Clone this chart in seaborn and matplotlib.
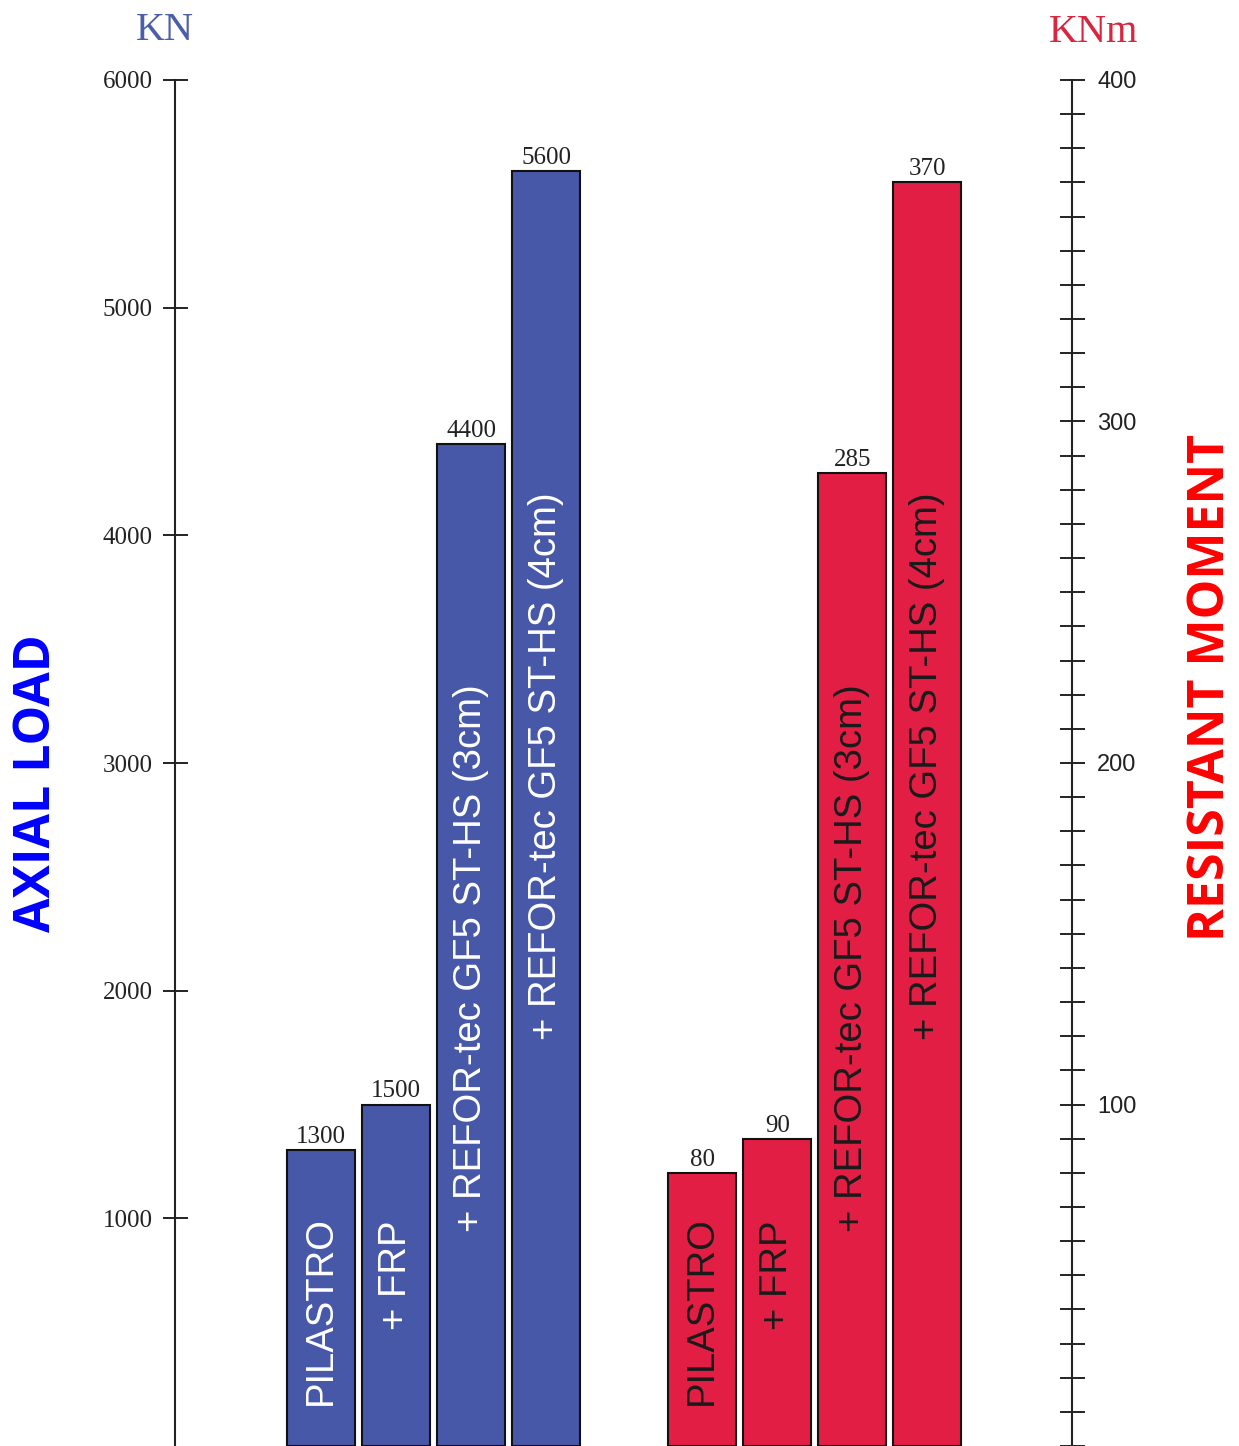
import numpy as np
import pandas as pd
import matplotlib
matplotlib.use("Agg")
import matplotlib.pyplot as plt
import matplotlib.transforms as mtransforms
from matplotlib.ticker import MultipleLocator
import seaborn as sns

# --- data ---
labels = ["PILASTRO", "+ FRP", "+ REFOR-tec GF5 ST-HS (3cm)", "+ REFOR-tec GF5 ST-HS (4cm)"]
axial_load_kn = [1300, 1500, 4400, 5600]
resistant_moment_knm = [80, 90, 285, 370]
axial_ticks = [1000, 2000, 3000, 4000, 5000, 6000]
moment_ticks = [100, 200, 300, 400]

BLUE = "#4858a8"
RED = "#e31e45"
W, H = 1239, 1446


def main():
    sns.set_theme(style="white")
    plt.rcParams["font.family"] = ["Liberation Sans", "DejaVu Sans"]

    pos = np.arange(len(labels), dtype=float)
    blue_df = pd.DataFrame({"pos": pos, "value": axial_load_kn, "label": labels})
    red_df = pd.DataFrame({"pos": pos + 5.08, "value": resistant_moment_knm, "label": labels})

    fig = plt.figure(figsize=(W / 100, H / 100), dpi=100)
    fig.patch.set_facecolor("white")
    ax = fig.add_axes([175 / W, 0, (1072 - 175) / W, 1366 / H])
    ax2 = ax.twinx()

    sns.barplot(data=blue_df, x="pos", y="value", native_scale=True, width=0.91,
                color=BLUE, saturation=1, edgecolor="#111111", linewidth=1.5, ax=ax)
    sns.barplot(data=red_df, x="pos", y="value", native_scale=True, width=0.91,
                color=RED, saturation=1, edgecolor="#111111", linewidth=1.5, ax=ax2)

    ax.set_xlim(-1.95, 10.01)
    ax.set_ylim(0, 6000)
    ax2.set_ylim(0, 400)
    ax.set_xlabel("")
    ax.set_ylabel("")
    ax2.set_ylabel("")
    ax.set_xticks([])
    ax.patch.set_alpha(0)

    for a in (ax, ax2):
        for s in ("top", "bottom"):
            a.spines[s].set_visible(False)
    ax.spines["right"].set_visible(False)
    ax2.spines["left"].set_visible(False)
    ax.spines["left"].set_linewidth(1.5)
    ax.spines["left"].set_color("#222222")
    ax2.spines["right"].set_linewidth(1.5)
    ax2.spines["right"].set_color("#222222")

    # left axis: KN
    ax.set_yticks(axial_ticks)
    ax.set_yticklabels([str(t) for t in axial_ticks], family="Liberation Serif", fontsize=18)
    ax.tick_params(axis="y", direction="inout", length=18, width=1.4, color="#222222",
                   pad=7, labelcolor="#222222", left=True)

    # right axis: KNm with minor ticks every 10
    ax2.set_yticks(moment_ticks)
    ax2.set_yticklabels([str(t) for t in moment_ticks], fontsize=17)
    ax2.yaxis.set_minor_locator(MultipleLocator(10))
    ax2.tick_params(axis="y", which="both", direction="inout", length=18, width=1.4,
                    color="#222222", right=True, labelcolor="#222222")
    ax2.tick_params(axis="y", which="major", pad=9)

    # value labels above bars
    ax.bar_label(ax.containers[0], fmt="%d", padding=1.5, family="Liberation Serif",
                 fontsize=18, color="#222222")
    ax2.bar_label(ax2.containers[0], fmt="%d", padding=1.5, family="Liberation Serif",
                  fontsize=18, color="#222222")

    # rotated labels inside bars (bottom anchored, axes-fraction height)
    anchors = [0.030, 0.085, 0.157, 0.297]
    trans = mtransforms.blended_transform_factory(ax.transData, ax.transAxes)
    trans2 = mtransforms.blended_transform_factory(ax2.transData, ax2.transAxes)
    for x, lab, a in zip(blue_df["pos"], labels, anchors):
        ax.text(x, a, lab, rotation=90, ha="center", va="bottom", transform=trans,
                fontsize=27.5, color="white")
    for x, lab, a in zip(red_df["pos"], labels, anchors):
        ax2.text(x, a, lab, rotation=90, ha="center", va="bottom", transform=trans2,
                 fontsize=27.5, color="#1a1a1a")

    # units and axis titles
    fig.text(165 / W, 1 - 30 / H, "KN", ha="center", va="center",
             family="Liberation Serif", fontsize=29, color="#4a5eaa")
    fig.text(1094 / W, 1 - 33 / H, "KNm", ha="center", va="center",
             family="Liberation Serif", fontsize=29, color="#d8263f")
    fig.text(37 / W, 1 - 783 / H, "AXIAL LOAD", rotation=90, ha="center", va="center",
             family="Open Sans", weight="bold", fontsize=36, color="#0000ff")
    fig.text(1211 / W, 1 - 687 / H, "RESISTANT MOMENT", rotation=90, ha="center", va="center",
             family="Open Sans", weight="bold", fontsize=36, color="#ff0000")

    fig.savefig("out.png", dpi=100)
    plt.close(fig)


if __name__ == "__main__":
    main()
